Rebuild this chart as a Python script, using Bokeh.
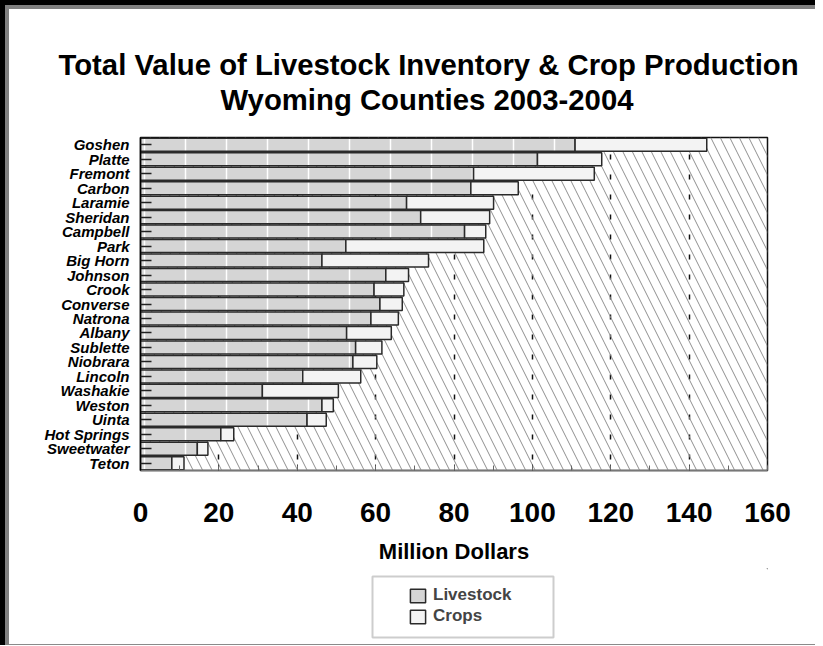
from bokeh.plotting import figure
from bokeh.layouts import column
from bokeh.models import (FactorRange, Range1d, Legend, LegendItem, Title, BoxAnnotation,
                          SingleIntervalTicker, ColumnDataSource)
from bokeh.embed import file_html
from bokeh.resources import INLINE

# ---------------- data ----------------
counties = ["Goshen", "Platte", "Fremont", "Carbon", "Laramie", "Sheridan", "Campbell",
            "Park", "Big Horn", "Johnson", "Crook", "Converse", "Natrona", "Albany",
            "Sublette", "Niobrara", "Lincoln", "Washakie", "Weston", "Uinta",
            "Hot Springs", "Sweetwater", "Teton"]
livestock = [110.9, 101.3, 85.0, 84.3, 67.9, 71.5, 82.7, 52.4, 46.3, 62.6, 59.6, 61.1,
             58.8, 52.6, 54.9, 54.2, 41.4, 31.1, 46.3, 42.5, 20.5, 14.5, 8.0]
crops = [33.6, 16.4, 30.8, 12.1, 22.2, 17.6, 5.4, 35.2, 27.2, 5.8, 7.6, 5.7,
         7.0, 11.4, 6.7, 6.1, 14.8, 19.4, 2.9, 4.9, 3.3, 2.7, 3.1]
series_names = ["Livestock", "Crops"]
x_ticks = [0, 20, 40, 60, 80, 100, 120, 140, 160]
title_lines = ["Total Value of Livestock Inventory & Crop Production",
               "Wyoming Counties 2003-2004"]
x_label = "Million Dollars"

total = [l + c for l, c in zip(livestock, crops)]
src = ColumnDataSource(dict(county=counties, livestock=livestock, crops=crops, total=total))

# ---------------- styles ----------------
W = 815
H_MAIN, H_LEG = 568, 77
FL, FR, FT, FB = 140, 767, 137, 470
FONT = "Liberation Sans"
LIVE_STYLE = dict(fill_color="#d5d5d5", line_color="#2a2a2a", line_width=1.5,
                  hatch_pattern="|", hatch_color="white", hatch_weight=1.5, hatch_scale=41)
CROP_STYLE = dict(fill_color="#f3f3f3", line_color="#2a2a2a", line_width=1.5)

# ---------------- main chart ----------------
p = figure(width=W, height=H_MAIN,
           y_range=FactorRange(factors=list(reversed(counties)), range_padding=0),
           x_range=Range1d(x_ticks[0], x_ticks[-1]),
           output_backend="svg", toolbar_location=None,
           min_border_left=FL, min_border_right=W - FR,
           min_border_top=FT, min_border_bottom=H_MAIN - FB)
p.background_fill_color = "white"
p.border_fill_color = None
p.outline_line_color = "#111111"
p.outline_line_width = 1.5

ticker = SingleIntervalTicker(interval=20, num_minor_ticks=2)

# background hatch
p.add_layout(BoxAnnotation(left=FL, right=FR, top=FT, bottom=FB,
                           left_units="canvas", right_units="canvas",
                           top_units="canvas", bottom_units="canvas",
                           fill_color=None, line_color=None,
                           hatch_pattern="\\", hatch_color="#8f8f8f",
                           hatch_weight=1, hatch_scale=19, level="underlay"))

# grid
p.ygrid.grid_line_color = None
p.xgrid.ticker = ticker
p.xgrid.grid_line_color = "#111111"
p.xgrid.grid_line_width = 1.5
p.xgrid.grid_line_dash = "5 15"
p.xgrid.grid_line_dash_offset = 9

# bars
r1 = p.hbar(y="county", left=0, right="livestock", height=0.9, source=src, **LIVE_STYLE)
r2 = p.hbar(y="county", left="livestock", right="total", height=0.9, source=src, **CROP_STYLE)

# axes
xa = p.xaxis[0]
xa.ticker = ticker
xa.axis_line_color = "#777777"
xa.axis_line_width = 1.5
xa.major_tick_in = 6
xa.major_tick_out = 0
xa.minor_tick_in = 5
xa.minor_tick_out = 0
xa.major_tick_line_color = "#333333"
xa.minor_tick_line_color = "#666666"
xa.major_label_text_font = FONT
xa.major_label_text_font_style = "bold"
xa.major_label_text_font_size = "28px"
xa.major_label_text_color = "black"
xa.major_label_standoff = 32
xa.axis_label = x_label
xa.axis_label_text_font = FONT
xa.axis_label_text_font_style = "bold"
xa.axis_label_text_font_size = "22px"
xa.axis_label_text_color = "black"
xa.axis_label_standoff = 14

ya = p.yaxis[0]
ya.axis_line_color = "black"
ya.axis_line_width = 1.5
ya.major_tick_in = 11
ya.major_tick_out = 0
ya.major_tick_line_color = "#222222"
ya.major_tick_line_width = 1.5
ya.major_label_text_font = FONT
ya.major_label_text_font_style = "bold italic"
ya.major_label_text_font_size = "15px"
ya.major_label_text_color = "black"
ya.major_label_standoff = 11

# blank spacer between the frame and the title lines
p.add_layout(Title(text="\u00a0", text_font_size="1px", standoff=19), "above")

# titles (second line added first: it sits closest to the frame)
offsets = [-82, 80]
for i in (1, 0):
    p.add_layout(Title(text=title_lines[i], align="left", offset=offsets[i],
                       text_font=FONT, text_font_style="bold", text_font_size="29.3px",
                       text_color="black", standoff=0), "above")

# ---------------- legend strip ----------------
q = figure(width=W, height=H_LEG, x_range=Range1d(0, 1), y_range=Range1d(0, 1),
           x_axis_type=None, y_axis_type=None, output_backend="svg",
           toolbar_location=None, min_border=0,
           min_border_left=FL, min_border_right=W - FR)
q.background_fill_color = None
q.border_fill_color = None
q.outline_line_color = None
q.grid.visible = False
# legend proxies: zero-size bars placed far outside the strip's visible range
proxy = ColumnDataSource(dict(y=[x_ticks[-1]], left=[x_ticks[-1]], right=[x_ticks[-1]]))
l1 = q.hbar(y="y", left="left", right="right", height=0.5, source=proxy, **LIVE_STYLE)
l2 = q.hbar(y="y", left="left", right="right", height=0.5, source=proxy, **CROP_STYLE)
q.add_layout(BoxAnnotation(left=372, right=553, top=8, bottom=69,
                           left_units="canvas", right_units="canvas",
                           top_units="canvas", bottom_units="canvas",
                           fill_color="white", line_color="#5a5a5a", line_width=2,
                           level="underlay"))
legend = Legend(items=[LegendItem(label=series_names[0], renderers=[l1]),
                       LegendItem(label=series_names[1], renderers=[l2])],
                location=(268, 19), orientation="vertical",
                border_line_color=None, background_fill_alpha=0,
                padding=0, spacing=1, glyph_width=19, glyph_height=17,
                label_standoff=6, label_height=20,
                label_text_font=FONT, label_text_font_style="bold",
                label_text_font_size="17px", margin=0)
q.add_layout(legend, "center")

layout = column(p, q, spacing=0)
# page frame decoration (thick black/gray band on left & top, thin gray line at bottom)
layout.styles = {"box-shadow": "inset 5px 5px 0 0 #000000, inset 9px 9px 0 0 #808080, "
                               "inset 0 -1px 0 0 #8a8a8a"}

open("out.html", "w").write(file_html(layout, INLINE))
